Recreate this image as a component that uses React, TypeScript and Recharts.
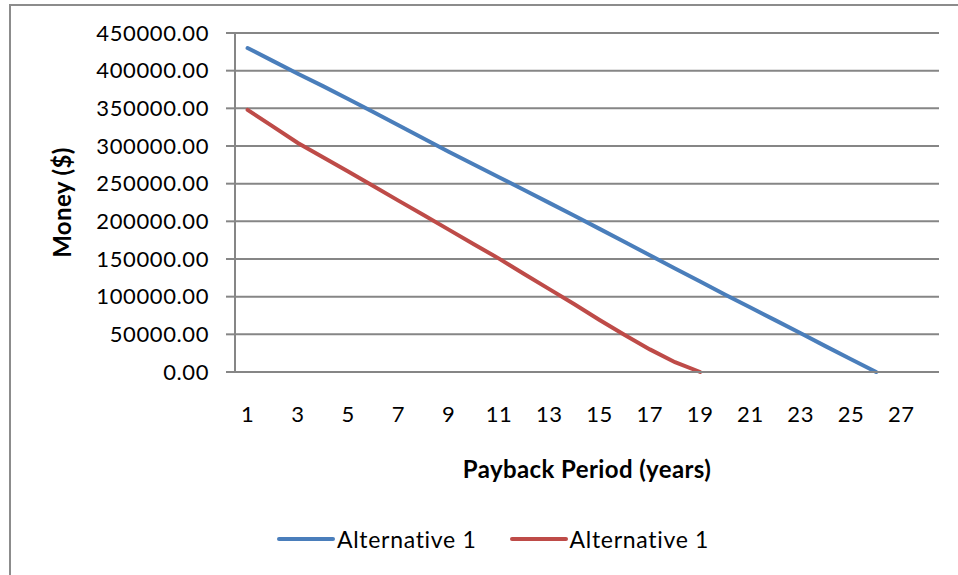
import React from 'react'
import {
  LineChart,
  Line,
  XAxis,
  YAxis,
  CartesianGrid,
  Legend,
} from 'recharts'

const years = [1, 2, 3, 4, 5, 6, 7, 8, 9, 10, 11, 12, 13, 14, 15, 16, 17, 18, 19, 20, 21, 22, 23, 24, 25, 26]

const alternativeA = [
  430000, 413000, 396000, 379500, 362500, 345000, 327500, 310000, 292500, 275500,
  258500, 241500, 224500, 207500, 190000, 172500, 155000, 137500, 120000, 102500,
  85500, 68500, 51500, 34000, 17000, 0,
]

const alternativeB = [
  348000, 326000, 304000, 285000, 266000, 247000, 227500, 208500, 189000, 169500,
  150500, 130000, 110000, 90000, 69000, 49000, 30000, 13000, 0,
]

const xTicks = [1, 3, 5, 7, 9, 11, 13, 15, 17, 19, 21, 23, 25, 27]
const yTicks = [0, 50000, 100000, 150000, 200000, 250000, 300000, 350000, 400000, 450000]

const seriesNames = ['Alternative 1', 'Alternative 1']

const data = years.map((year, i) => ({
  year,
  a: alternativeA[i],
  b: i < alternativeB.length ? alternativeB[i] : null,
}))

const FONT = 'Lato, "Open Sans", sans-serif'
const GRID = '#868686'
const BLUE = '#4a7ebb'
const RED = '#be4b48'

const tickStyle = { fill: '#000', fontSize: 22, fontFamily: FONT, letterSpacing: 0.6 }

function YTitle(props: any) {
  const vb = props.viewBox || {}
  const cy = vb.y + vb.height / 2
  const x = 61
  return (
    <text
      x={x}
      y={cy}
      transform={`rotate(-90, ${x}, ${cy})`}
      textAnchor="middle"
      dominantBaseline="central"
      fontFamily={FONT}
      fontWeight="bold"
      fontSize={24}
      letterSpacing={0.4}
      fill="#000"
    >
      Money ($)
    </text>
  )
}

function XTitle(props: any) {
  const vb = props.viewBox || {}
  const cx = vb.x + vb.width / 2
  return (
    <text
      x={cx}
      y={468}
      textAnchor="middle"
      dominantBaseline="central"
      fontFamily={FONT}
      fontWeight="bold"
      fontSize={24}
      letterSpacing={0.4}
      fill="#000"
    >
      Payback Period (years)
    </text>
  )
}

function LegendBox({ payload }: any) {
  return (
    <div style={{ display: 'flex', alignItems: 'center', fontFamily: FONT, fontSize: 23, lineHeight: '28px' }}>
      {(payload || []).map((item: any, i: number) => (
        <div key={i} style={{ display: 'flex', alignItems: 'center', marginRight: 33 }}>
          <svg width={58} height={10}>
            <line x1={2} y1={5} x2={56} y2={5} stroke={item.color} strokeWidth={4} strokeLinecap="round" />
          </svg>
          <span style={{ marginLeft: 2, color: '#000', letterSpacing: 0.7 }}>{item.value}</span>
        </div>
      ))}
    </div>
  )
}

export default function App() {
  return (
    <div style={{ position: 'absolute', left: 0, top: 0, width: 958, height: 575, overflow: 'hidden', background: '#fff' }}>
      {/* outer chart frame, only left and top edges visible */}
      <div
        style={{
          position: 'absolute',
          left: 9,
          top: 4,
          width: 1200,
          height: 1200,
          borderLeft: '2px solid #8c8c8c',
          borderTop: '2px solid #8c8c8c',
        }}
      />
      <LineChart
        width={958}
        height={575}
        data={data}
        margin={{ top: 33, right: 19, bottom: 83, left: 0 }}
        style={{ position: 'absolute', left: 0, top: 0 }}
      >
        <CartesianGrid vertical={false} stroke={GRID} strokeWidth={2} />
        <XAxis
          dataKey="year"
          type="number"
          domain={[0.5, 28.5]}
          ticks={xTicks}
          interval={0}
          height={120}
          axisLine={{ stroke: GRID, strokeWidth: 2 }}
          tickLine={false}
          tickSize={0}
          tickMargin={34}
          tick={tickStyle}
          label={<XTitle />}
        />
        <YAxis
          width={235}
          domain={[0, 450000]}
          ticks={yTicks}
          interval={0}
          tickFormatter={(v: number) => v.toFixed(2)}
          axisLine={{ stroke: GRID, strokeWidth: 2 }}
          tickLine={{ stroke: GRID, strokeWidth: 2 }}
          tickSize={9}
          tickMargin={17}
          tick={tickStyle}
          label={<YTitle />}
        />
        <Legend
          verticalAlign="middle"
          content={<LegendBox />}
          wrapperStyle={{ left: 277, top: 525, width: 620 }}
        />
        <Line
          type="linear"
          dataKey="a"
          name={seriesNames[0]}
          stroke={BLUE}
          strokeWidth={4}
          strokeLinecap="round"
          dot={false}
          isAnimationActive={false}
        />
        <Line
          type="linear"
          dataKey="b"
          name={seriesNames[1]}
          stroke={RED}
          strokeWidth={4}
          strokeLinecap="round"
          dot={false}
          isAnimationActive={false}
        />
      </LineChart>
    </div>
  )
}
